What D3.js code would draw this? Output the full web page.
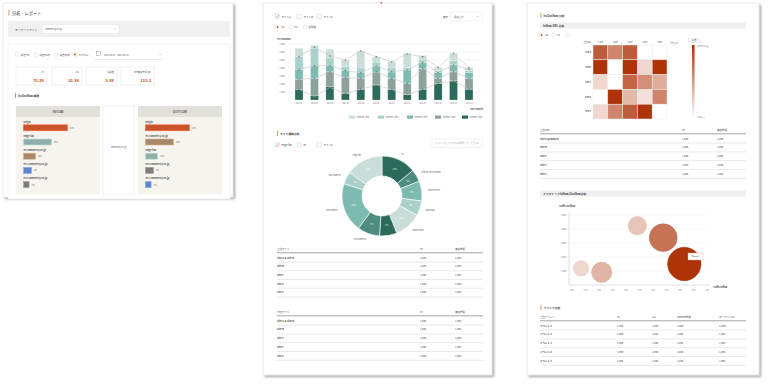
<!DOCTYPE html>
<html>
<head>
<meta charset="utf-8">
<script src="https://cdn.jsdelivr.net/npm/d3@7"></script>
<style>
  body { margin: 0; background: #fff; }
  svg { display: block; font-family: "Noto Sans CJK JP", "Noto Sans", sans-serif; }
</style>
</head>
<body>
<svg id="chart" width="768" height="384"></svg>
<script>
// ---------- data ----------
var periodOptions = ["過去7日", "過去30日", "過去90日", "カスタム"];
var kpiLabels = ["PV", "UU", "訪問数", "平均滞在時間 (秒)"];
var kpiValues = ["70.3K", "10.3K", "5.3K", "132.2"];

var inflowSites = ["origin", "edge.fan", "ec.comnecty.co.jp", "ec2.comnecty.co.jp", "ec3.comnecty.co.jp"];
var inflowPct = [50, 30, 10, 5, 2];
var outflowSites = ["origin", "ec.comnecty.co.jp", "edge.fan", "ec3.comnecty.co.jp", "ec2.comnecty.co.jp"];
var outflowPct = [50, 30, 10, 5, 2];

var months = ["2024-01", "2024-02", "2024-03", "2024-04", "2024-05", "2024-06",
  "2024-07", "2024-08", "2024-09", "2024-10", "2024-11", "2024-12"];
var seriesDark = [1330, 600, 1650, 850, 1350, 1900, 1350, 650, 1350, 2100, 2400, 1350];
var seriesGray = [1250, 2100, 1900, 1950, 1350, 1600, 1350, 1400, 2600, 600, 1200, 1350];
var seriesTeal = [1250, 1650, 800, 850, 700, 750, 800, 1700, 750, 700, 800, 700];
var seriesLight = [1600, 2100, 900, 500, 600, 500, 500, 300, 300, 300, 500, 300];
var seriesLightest = [1050, 400, 1100, 850, 2100, 650, 800, 1800, 550, 400, 950, 350];
var legendNames = ["Element_ddd", "Element_ddd", "Element_ddd", "Element_ddd", "Element_ddd"];
var lineA = [5420, 6580, 5500, 5000, 6130, 5420, 4790, 5750, 5420, 4080, 5830, 4040];
var lineB = [3830, 4290, 4290, 3670, 3420, 4250, 3540, 3750, 4710, 3420, 4380, 3830];
var lineC = [2580, 2710, 3540, 2790, 2710, 3540, 2710, 2080, 3960, 2710, 3540, 2710];
var lineD = [1330, 420, 1580, 830, 1330, 1880, 1330, 630, 1330, 2080, 2380, 1330];
var yTicks = [1000, 2000, 3000, 4000, 5000, 6000, 7000];

var donutNames = ["ec", "ecfilter web counter", "web services", "web Yaps", "search web",
  "", "Site Name(s)", "Site Name(s)", "Site Name(s)", "edge.fan"];
var donutPct = [14, 5, 8, 6, 11, 7, 9, 20, 5, 15];

var tableSites = ["Site A & Site B", "Site B", "Site C", "Site C", "Site C"];
var tablePV = ["1,000", "1,000", "1,000", "1,000", "1,000"];
var tableTime = ["1,000", "1,000", "1,000", "1,000", "1,000"];

var heatRows = ["Site A", "Site B", "Site C", "Site D", "Site E"];
var heatCols = ["1 Site", "2 Site", "3 Site", "4 Site", "5 Site"];
var heatValues = [
  [80, 60, 80, 0, 0],
  [100, 0, 100, 20, 100],
  [20, 0, 75, 55, 40],
  [0, 100, 35, 15, 60],
  [20, 60, 80, 100, 0]
];
var urlRows = ["Site E/products", "Site B", "Site C", "Site C", "Site C"];

var bubbleInflow = [0.067, 0.22, 0.484, 0.676, 0.832];
var bubbleOutflow = [1190, 910, 4240, 3380, 1500];
var bubbleSize = [60, 105, 85, 195, 280];
var bubbleXTicks = [0, 0.1, 0.2, 0.3, 0.4, 0.5, 0.6, 0.7, 0.8, 0.9, 1];
var bubbleYTicks = [1000, 2000, 3000, 4000, 5000];

var eventNames = ["イベント 1", "イベント 2", "イベント 3", "イベント 4", "イベント 5"];
var eventCV = ["1.00%", "1,000", "1,000", "1,000", "1,000"];

// ---------- helpers ----------
var accent = "#d0532b";
var siteColor = {
  "origin": "#c9532c",
  "edge.fan": "#8fb0aa",
  "ec.comnecty.co.jp": "#a88869",
  "ec2.comnecty.co.jp": "#5f86c8",
  "ec3.comnecty.co.jp": "#7b7b7b"
};
var greens = ["#2c6a5c", "#8da29b", "#7dbbb0", "#a9d1ca", "#c9ddd9"];
var donutGreens = ["#2c6a5c", "#4e8c80", "#7dbbb0", "#a9d1ca", "#c9ddd9"];

var svg = d3.select("#chart");
svg.append("rect").attr("width", 768).attr("height", 384).attr("fill", "#fff");

var defs = svg.append("defs");
defs.append("filter").attr("id", "shadow")
  .attr("x", "-5%").attr("y", "-5%").attr("width", "115%").attr("height", "115%")
  .append("feDropShadow").attr("dx", 1.8).attr("dy", 1.8).attr("stdDeviation", 1)
  .attr("flood-color", "#000").attr("flood-opacity", 0.35);

function card(x, y, w, h) {
  svg.append("rect").attr("x", x).attr("y", y).attr("width", w).attr("height", h)
    .attr("fill", "#fff").attr("stroke", "#d6d6d6").attr("stroke-width", 0.5)
    .attr("filter", "url(#shadow)");
}

function label(x, y, s, size, fill, anchor, weight) {
  return svg.append("text").attr("x", x).attr("y", y).text(s)
    .attr("font-size", size || 3).attr("fill", fill || "#555")
    .attr("text-anchor", anchor || "start").attr("font-weight", weight || "normal");
}

function sectionTitle(x, y, s, size) {
  svg.append("rect").attr("x", x).attr("y", y - 4).attr("width", 0.9).attr("height", 5).attr("fill", "#c98a5a");
  label(x + 3, y, s, size || 3.2, "#333", "start", "bold");
}

function band(x, y, w, s) {
  svg.append("rect").attr("x", x).attr("y", y).attr("width", w).attr("height", 6).attr("fill", "#efefef");
  label(x + 3, y + 4.3, s, 2.8, "#333", "start", "bold");
}

function checkbox(x, y, s, checked) {
  svg.append("rect").attr("x", x).attr("y", y - 3.3).attr("width", 4.2).attr("height", 4.2).attr("rx", 0.4)
    .attr("fill", "#fff").attr("stroke", "#bbb").attr("stroke-width", 0.4);
  if (checked) {
    svg.append("path").attr("d", "M" + (x + 0.9) + "," + (y - 1.3) + " l1.1,1.2 l2,-2.4")
      .attr("fill", "none").attr("stroke", accent).attr("stroke-width", 0.5);
  }
  label(x + 6.5, y, s, 2.6, "#444");
}

function radio(x, y, s, on) {
  svg.append("circle").attr("cx", x).attr("cy", y - 1).attr("r", 2).attr("fill", "#fff")
    .attr("stroke", "#ccc").attr("stroke-width", 0.4);
  if (on) svg.append("circle").attr("cx", x).attr("cy", y - 1).attr("r", 0.9).attr("fill", accent);
  label(x + 3.5, y, s, 2.5, "#555");
}

function select(x, y, w, h, s, fill) {
  svg.append("rect").attr("x", x).attr("y", y).attr("width", w).attr("height", h)
    .attr("fill", "#fff").attr("stroke", "#dedede").attr("stroke-width", 0.4);
  label(x + 3, y + h / 2 + 1, s, 2.4, fill || "#555");
  svg.append("path").attr("d", "M" + (x + w - 5) + "," + (y + h / 2 - 0.6) + " l0.8,0.9 l0.8,-0.9")
    .attr("fill", "none").attr("stroke", "#777").attr("stroke-width", 0.35);
}

// generic table: header row, thick line, body rows with thin separators
function table(x0, x1, headY, colX, headers, rows, step) {
  headers.forEach(function (h, i) { label(colX[i], headY, h, 2.5, "#444"); });
  svg.append("line").attr("x1", x0).attr("x2", x1).attr("y1", headY + 3.3).attr("y2", headY + 3.3)
    .attr("stroke", "#9a9a9a").attr("stroke-width", 0.9);
  rows.forEach(function (r, j) {
    var y = headY + 9 + j * step;
    r.forEach(function (c, i) { label(colX[i], y, c, 2.5, "#444", "start", i === 0 ? "bold" : "normal"); });
    svg.append("line").attr("x1", x0).attr("x2", x1).attr("y1", y + 3.6).attr("y2", y + 3.6)
      .attr("stroke", "#e3e3e3").attr("stroke-width", 0.8);
  });
}

// ================= panel 1 : 分析・レポート =================
card(3, 3, 230, 194);
svg.append("rect").attr("x", 8.5).attr("y", 9.5).attr("width", 0.9).attr("height", 6).attr("fill", "#c98a5a");
label(12, 14.5, "分析・レポート", 4.2, "#333");

svg.append("rect").attr("x", 8).attr("y", 21).attr("width", 222).attr("height", 16).attr("fill", "#f0f0f0");
label(15, 30.5, "ターゲットサイト", 2.8, "#444");
select(42, 24.5, 77, 9, "comnecty.co.jp");

svg.append("rect").attr("x", 8).attr("y", 44).attr("width", 222).attr("height", 155)
  .attr("fill", "#fff").attr("stroke", "#e7e7e7").attr("stroke-width", 0.5);

var radioX = [17, 36, 56, 75];
periodOptions.forEach(function (p, i) { radio(radioX[i], 55.5, p, i === 3); });
svg.append("rect").attr("x", 96.5).attr("y", 51.5).attr("width", 4).attr("height", 3.8)
  .attr("fill", "none").attr("stroke", "#888").attr("stroke-width", 0.4);
label(104, 55.6, "2021/03/01 - 2021/03/31", 2.2, "#555");
svg.append("line").attr("x1", 95).attr("x2", 162).attr("y1", 59.5).attr("y2", 59.5)
  .attr("stroke", "#bbb").attr("stroke-width", 0.4);
svg.append("path").attr("d", "M159.5,54 l0.8,0.9 l0.8,-0.9").attr("fill", "none").attr("stroke", "#777").attr("stroke-width", 0.35);

var kpiX = [16, 52, 86, 121], kpiW = [31, 30, 31, 33];
kpiLabels.forEach(function (k, i) {
  svg.append("rect").attr("x", kpiX[i]).attr("y", 67).attr("width", kpiW[i]).attr("height", 18)
    .attr("fill", "#fff").attr("stroke", "#e2e2e2").attr("stroke-width", 0.5);
  label(kpiX[i] + kpiW[i] - 3, 73, k, 2.2, "#555", "end");
  label(kpiX[i] + kpiW[i] - 3, 81.5, kpiValues[i], 4, accent, "end", "bold");
});

sectionTitle(15, 97, "In/Outflow 概要", 2.8);

var flowX = d3.scaleLinear().domain([0, 50]).range([4, 44]);

function flowPanel(x, title, sites, pct) {
  svg.append("rect").attr("x", x).attr("y", 106).attr("width", 84).attr("height", 88).attr("fill", "#f7f4ef");
  svg.append("rect").attr("x", x).attr("y", 106).attr("width", 84).attr("height", 11).attr("fill", "#e3dfda");
  label(x + 42, 112.8, title, 2.8, "#555", "middle", "bold");
  sites.forEach(function (s, i) {
    var y = 122.5 + i * 14.2;
    label(x + 7.5, y, s, 2.5, "#444", "start", "bold");
    var c = siteColor[s];
    svg.append("rect").attr("x", x + 7.5).attr("y", y + 2.3).attr("width", flowX(pct[i])).attr("height", 6)
      .attr("fill", c).attr("stroke", d3.color(c).brighter(0.7)).attr("stroke-width", 0.6);
    label(x + 7.5 + flowX(pct[i]) + 2.5, y + 6.2, pct[i] + "%", 2, "#666");
  });
}
flowPanel(16, "INFLOW", inflowSites, inflowPct);
flowPanel(138, "OUTFLOW", outflowSites, outflowPct);

svg.append("rect").attr("x", 103).attr("y", 106).attr("width", 31).attr("height", 88)
  .attr("fill", "#fff").attr("stroke", "#e4e4e4").attr("stroke-width", 0.5);
label(118.5, 148, "comnecty.co.jp", 2.2, "#555", "middle");
label(101.5, 148.3, "›", 3, "#999", "middle");
label(136, 148.3, "›", 3, "#999", "middle");

// ================= panel 2 : 時系列 & サイト横断 =================
card(263, 3, 229, 372);
svg.append("rect").attr("x", 380.5).attr("y", 2).attr("width", 1.5).attr("height", 1.5).attr("fill", accent);

checkbox(275, 17.5, "サイトA", true);
checkbox(297, 17.5, "サイトB", false);
checkbox(317, 17.5, "サイトC", false);
label(443, 17.5, "表示", 2.5, "#444");
select(451, 12, 31, 9, "積み上げ");

radio(277.5, 28, "UU", true);
radio(291, 28, "PV", false);
radio(305, 28, "訪問数", false);

label(277, 39.5, "UU/Session", 2.4, "#333", "start", "bold");

var xBar = d3.scaleBand().domain(months).range([291.3, 476.7]).paddingInner(0.48).paddingOuter(0.24);
var yBar = d3.scaleLinear().domain([0, 7000]).range([100, 44]);

var gGrid = svg.append("g");
yTicks.forEach(function (t) {
  gGrid.append("line").attr("x1", 288).attr("x2", 482).attr("y1", yBar(t)).attr("y2", yBar(t))
    .attr("stroke", "#efefef").attr("stroke-width", 0.5);
  label(285, yBar(t) + 0.8, d3.format(",")(t), 2.2, "#777", "end");
});

var stackRows = months.map(function (m, i) {
  return { month: m, s0: seriesDark[i], s1: seriesGray[i], s2: seriesTeal[i], s3: seriesLight[i], s4: seriesLightest[i] };
});
var stacked = d3.stack().keys(["s0", "s1", "s2", "s3", "s4"])(stackRows);

svg.append("g").selectAll("g").data(stacked).join("g")
  .attr("fill", function (d, i) { return greens[i]; })
  .selectAll("rect").data(function (d) { return d; }).join("rect")
  .attr("x", function (d) { return xBar(d.data.month); })
  .attr("y", function (d) { return yBar(d[1]); })
  .attr("width", xBar.bandwidth())
  .attr("height", function (d) { return yBar(d[0]) - yBar(d[1]); })
  .attr("stroke", "#fff").attr("stroke-width", 0.25);

var lineGen = d3.line()
  .x(function (d, i) { return xBar(months[i]) + xBar.bandwidth() / 2; })
  .y(function (d) { return yBar(d); });
[lineA, lineB, lineC, lineD].forEach(function (ser) {
  svg.append("path").attr("d", lineGen(ser)).attr("fill", "none")
    .attr("stroke", "#c4c4c4").attr("stroke-width", 0.6);
  svg.append("g").selectAll("circle").data(ser).join("circle")
    .attr("cx", function (d, i) { return xBar(months[i]) + xBar.bandwidth() / 2; })
    .attr("cy", function (d) { return yBar(d); })
    .attr("r", 0.8).attr("fill", "#7d7d7d");
});

months.forEach(function (m) {
  label(xBar(m) + xBar.bandwidth() / 2, 104, m, 1.9, "#777", "middle");
});
label(483, 109.5, "Year Month", 2.3, "#444", "end", "bold");

var legendX = [349, 378, 407, 435, 462];
legendNames.forEach(function (n, i) {
  svg.append("rect").attr("x", legendX[i]).attr("y", 115.5).attr("width", 6).attr("height", 3.2).attr("fill", greens[4 - i]);
  label(legendX[i] + 7.5, 118.3, n, 2, "#666");
});

// サイト横断分析
sectionTitle(277, 135, "サイト横断分析", 2.8);
checkbox(275, 146, "edge.fan", true);
checkbox(297, 146, "ec", false);
checkbox(317, 146, "サイトC", false);
select(432, 139, 50, 8.5, "ドメインを入力または選択してください", "#aaa");

var cx = 382, cy = 196, rIn = 20, rOut = 40;
var pie = d3.pie().sort(null).value(function (d) { return d; });
var arcs = pie(donutPct);
var arcGen = d3.arc().innerRadius(rIn).outerRadius(rOut);
var gDonut = svg.append("g").attr("transform", "translate(" + cx + "," + cy + ")");
gDonut.selectAll("path").data(arcs).join("path")
  .attr("d", arcGen)
  .attr("fill", function (d, i) { return donutGreens[i % 5]; })
  .attr("stroke", "#fff").attr("stroke-width", 0.6);
gDonut.selectAll("text.pct").data(arcs).join("text").attr("class", "pct")
  .attr("transform", function (d) { return "translate(" + arcGen.centroid(d) + ")"; })
  .attr("text-anchor", "middle").attr("font-size", 2.2).attr("dy", 0.8)
  .attr("fill", function (d, i) { return i % 5 < 2 ? "#e6efed" : "#f7fbfa"; })
  .text(function (d) { return d.data + "%"; });
var outerLab = d3.arc().innerRadius(rOut + 6).outerRadius(rOut + 6);
gDonut.selectAll("text.nm").data(arcs).join("text").attr("class", "nm")
  .attr("transform", function (d) { return "translate(" + outerLab.centroid(d) + ")"; })
  .attr("text-anchor", function (d) { return (d.startAngle + d.endAngle) / 2 < Math.PI ? "start" : "end"; })
  .attr("font-size", 2.1).attr("dy", 0.7).attr("fill", "#555")
  .text(function (d, i) { return donutNames[i]; });

var rowsTop = tableSites.map(function (s, i) { return [s, tablePV[i], tableTime[i]]; });
table(277, 483, 249.5, [277, 420, 455], ["上位サイト", "PV", "滞在時間"], rowsTop, 8.7);
table(277, 483, 312.5, [277, 420, 455], ["下位サイト", "PV", "滞在時間"], rowsTop, 8.8);

// ================= panel 3 : In/Outflow 分析 =================
card(527, 3, 232, 372);
sectionTitle(540.5, 17, "In/Outflow 分析", 2.8);
band(540, 22.5, 206, "Inflow URL 分析");
radio(541.5, 36, "UU", true);
radio(553.5, 36, "PV", false);
radio(568, 36, "", false);

var heatColor = d3.scaleLinear().domain([0, 100]).range(["#ffffff", "#ad3309"]);
var xHeat = d3.scaleBand().domain(heatCols).range([593, 667]);
var yHeat = d3.scaleBand().domain(heatRows).range([45, 119]);
label(591, 42.5, "上位URL", 2, "#444", "end");
heatCols.forEach(function (c) { label(xHeat(c) + xHeat.bandwidth() / 2, 42.5, c, 2, "#444", "middle"); });
heatRows.forEach(function (r) { label(591, yHeat(r) + yHeat.bandwidth() / 2 + 0.8, r, 2.1, "#444", "end", "bold"); });
label(670, 43.5, "(単位: UU)", 1.8, "#666");
heatValues.forEach(function (row, j) {
  svg.append("g").selectAll("rect").data(row).join("rect")
    .attr("x", function (d, i) { return xHeat(heatCols[i]); })
    .attr("y", yHeat(heatRows[j]))
    .attr("width", xHeat.bandwidth()).attr("height", yHeat.bandwidth())
    .attr("fill", function (d) { return heatColor(d); })
    .attr("stroke", "#ececec").attr("stroke-width", 0.5);
});

var grad = defs.append("linearGradient").attr("id", "heatGrad")
  .attr("x1", 0).attr("x2", 0).attr("y1", 0).attr("y2", 1);
grad.append("stop").attr("offset", "0%").attr("stop-color", heatColor(100));
grad.append("stop").attr("offset", "100%").attr("stop-color", heatColor(0));
svg.append("rect").attr("x", 688.5).attr("y", 38.5).attr("width", 11).attr("height", 4)
  .attr("fill", "#fff").attr("stroke", "#ccc").attr("stroke-width", 0.35);
label(694, 41.3, "(UU数)", 1.8, "#555", "middle");
svg.append("rect").attr("x", 692).attr("y", 45).attr("width", 2.6).attr("height", 73).attr("fill", "url(#heatGrad)");
label(697, 47, "100,000 (UU数)", 1.7, "#666");
label(697, 118, "1,000 以下", 1.7, "#666");

var rowsUrl = urlRows.map(function (s, i) { return [s, tablePV[i], tableTime[i]]; });
table(540, 746, 130.5, [540, 682, 717], ["上位URL", "PV", "滞在時間"], rowsUrl, 8.8);

band(540, 190.5, 206, "トラフィックInflow/Outflow分析");

var xB = d3.scaleLinear().domain([0, 1]).range([572, 707]);
var yB = d3.scaleLinear().domain([0, 5000]).range([285, 215]);
var rB = d3.scaleSqrt().domain([0, 280]).range([0, 16.7]);
var cB = d3.scaleLinear().domain([60, 280]).range([0.2, 1]);

bubbleYTicks.forEach(function (t) {
  svg.append("line").attr("x1", 569).attr("x2", 707).attr("y1", yB(t)).attr("y2", yB(t))
    .attr("stroke", "#f1f1f1").attr("stroke-width", 0.5);
  label(566, yB(t) + 0.7, d3.format(",")(t), 1.9, "#666", "end");
});
bubbleXTicks.forEach(function (t) {
  label(xB(t), 290.5, d3.format(".2f")(t), 1.8, "#666", "middle");
});
svg.append("line").attr("x1", 569).attr("x2", 569).attr("y1", 212).attr("y2", 285).attr("stroke", "#d8d8d8").attr("stroke-width", 0.8);
svg.append("line").attr("x1", 569).attr("x2", 710).attr("y1", 285).attr("y2", 285).attr("stroke", "#d8d8d8").attr("stroke-width", 0.8);
label(559, 206.5, "Traffic Outflow", 2.2, "#333", "start", "bold");
label(713, 287.5, "Traffic Inflow", 2.2, "#333", "start", "bold");

svg.append("g").selectAll("circle").data(bubbleSize).join("circle")
  .attr("cx", function (d, i) { return xB(bubbleInflow[i]); })
  .attr("cy", function (d, i) { return yB(bubbleOutflow[i]); })
  .attr("r", function (d) { return rB(d); })
  .attr("fill", function (d) { return heatColor(cB(d) * 100); })
  .attr("stroke", function (d) { return d3.color(heatColor(cB(d) * 100)).darker(0.15); })
  .attr("stroke-width", 0.5);

svg.append("rect").attr("x", 688).attr("y", 253).attr("width", 15).attr("height", 7)
  .attr("fill", "#fff").attr("stroke", "#e4a88f").attr("stroke-width", 0.4);
label(695.5, 257.3, "Domain1", 1.8, "#444", "middle");

sectionTitle(540.5, 309, "イベント分析", 2.8);
var rowsEvent = eventNames.map(function (s, i) { return [s, tablePV[i], tablePV[i], tableTime[i], eventCV[i]]; });
table(540, 746, 317.5, [540, 617, 652, 677, 719], ["上位イベント", "PV", "UU", "Session時間", "ターゲットCV"], rowsEvent, 8.8);
</script>
</body>
</html>
